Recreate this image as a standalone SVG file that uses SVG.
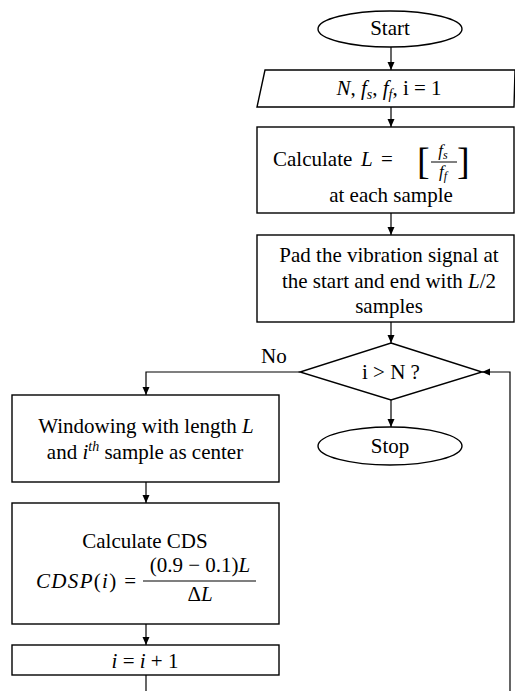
<svg xmlns="http://www.w3.org/2000/svg" width="515" height="691" viewBox="0 0 515 691">
<defs>
<marker id="arr" markerWidth="8" markerHeight="8" refX="8" refY="4" orient="auto" markerUnits="userSpaceOnUse">
<path d="M0,0.5 L8,4 L0,7.5 z" fill="#000"/>
</marker>
<style>
.s{fill:#fff;stroke:#000;stroke-width:1.4}
.c{fill:none;stroke:#000;stroke-width:1.2}
.t{font-family:"Liberation Serif","Times New Roman",serif;font-size:21px;fill:#000}
.m{font-style:italic}
.sub{font-size:14px}
</style>
</defs>
<rect width="515" height="691" fill="#fff"/>
<g id="connectors">
<line class="c" x1="391" y1="47" x2="391" y2="70" marker-end="url(#arr)"/>
<line class="c" x1="391" y1="107" x2="391" y2="127" marker-end="url(#arr)"/>
<line class="c" x1="391" y1="213" x2="391" y2="235" marker-end="url(#arr)"/>
<line class="c" x1="391" y1="322" x2="391" y2="343" marker-end="url(#arr)"/>
<line class="c" x1="391" y1="400" x2="391" y2="427" marker-end="url(#arr)"/>
<polyline class="c" points="300,372 146,372 146,395" marker-end="url(#arr)"/>
<line class="c" x1="146" y1="482" x2="146" y2="503" marker-end="url(#arr)"/>
<line class="c" x1="146" y1="624" x2="146" y2="645" marker-end="url(#arr)"/>
<line class="c" x1="146" y1="675" x2="146" y2="691"/>
<polyline class="c" points="510,691 510,372 482,372" marker-end="url(#arr)"/>
<text class="t" x="261" y="363">No</text>
</g>
<g id="start">
<ellipse class="s" cx="390" cy="29" rx="72" ry="18"/>
<text class="t" x="390" y="35" text-anchor="middle">Start</text>
</g>
<g id="input">
<polygon class="s" points="265,70 515,70 514,107 257,107"/>
<text class="t" x="389" y="95" text-anchor="middle"><tspan class="m">N</tspan>, <tspan class="m">f</tspan><tspan class="m sub" dy="4">s</tspan><tspan dy="-4">, </tspan><tspan class="m">f</tspan><tspan class="m sub" dy="4">f</tspan><tspan dy="-4">, i = 1</tspan></text>
</g>
<g id="calcL">
<rect class="s" x="257" y="127" width="257" height="86"/>
<text class="t" x="273" y="166">Calculate</text>
<text class="t m" x="361" y="166">L</text>
<text class="t" x="381" y="166">=</text>
<text class="t" x="417" y="174" style="font-size:38px">[</text>
<text class="t" x="457" y="174" style="font-size:38px">]</text>
<text class="t m" x="443" y="156" text-anchor="middle" style="font-size:17px">f<tspan dy="3" style="font-size:12px">s</tspan></text>
<line x1="431" y1="162" x2="457" y2="162" stroke="#000" stroke-width="1"/>
<text class="t m" x="443" y="177" text-anchor="middle" style="font-size:17px">f<tspan dy="3" style="font-size:12px">f</tspan></text>
<text class="t" x="391" y="202" text-anchor="middle">at each sample</text>
</g>
<g id="pad">
<rect class="s" x="257" y="235" width="257" height="87"/>
<text class="t" x="389" y="262" text-anchor="middle">Pad the vibration signal at</text>
<text class="t" x="389" y="288" text-anchor="middle">the start and end with  <tspan class="m">L</tspan>/2</text>
<text class="t" x="389" y="313" text-anchor="middle">samples</text>
</g>
<g id="decision">
<polygon class="s" points="391,343 482,372 391,400 300,372"/>
<text class="t" x="391" y="379" text-anchor="middle">i &gt; N ?</text>
</g>
<g id="stop">
<ellipse class="s" cx="390" cy="446" rx="72" ry="19"/>
<text class="t" x="390" y="453" text-anchor="middle">Stop</text>
</g>
<g id="window">
<rect class="s" x="12" y="395" width="267" height="87"/>
<text class="t" x="146" y="433" text-anchor="middle">Windowing with length  <tspan class="m">L</tspan></text>
<text class="t" x="145" y="459" text-anchor="middle">and <tspan class="m">i</tspan><tspan class="m sub" dy="-8">th</tspan><tspan dy="8">  sample as center</tspan></text>
</g>
<g id="cds">
<rect class="s" x="12" y="503" width="267" height="121"/>
<text class="t" x="145" y="548" text-anchor="middle">Calculate CDS</text>
<text class="t" x="36" y="588" textLength="100" lengthAdjust="spacing"><tspan class="m">CDSP</tspan>(<tspan class="m">i</tspan>) =</text>
<text class="t" x="200" y="572" text-anchor="middle">(0.9 − 0.1)<tspan class="m">L</tspan></text>
<line x1="143" y1="581" x2="256" y2="581" stroke="#000" stroke-width="1.2"/>
<text class="t" x="200" y="601" text-anchor="middle">Δ<tspan class="m">L</tspan></text>
</g>
<g id="increment">
<rect class="s" x="12" y="645" width="267" height="30"/>
<text class="t" x="145" y="668" text-anchor="middle"><tspan class="m">i</tspan> = <tspan class="m">i</tspan> + 1</text>
</g>
</svg>
